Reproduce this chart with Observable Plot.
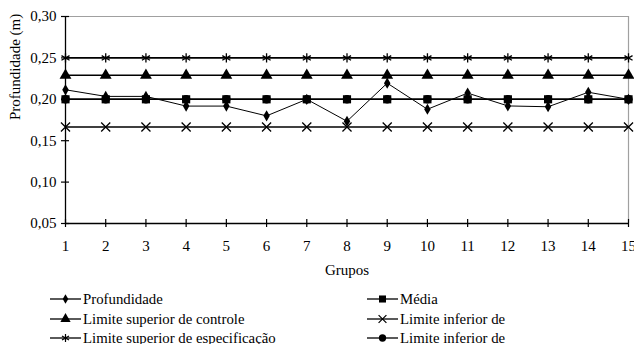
<!DOCTYPE html>
<html>
<head>
<meta charset="utf-8">
<script src="https://cdn.jsdelivr.net/npm/d3@7"></script>
<script src="https://cdn.jsdelivr.net/npm/@observablehq/plot@0.6"></script>
<style>
  body { margin: 0; background: #fff; font-family: "Liberation Serif", "Times New Roman", serif; overflow: hidden; }
  #chart svg { display: block; }
  #legend { position: relative; height: 64px; font-size: 14.8px; color: #000; }
  .item { position: absolute; display: flex; align-items: center; height: 20px; white-space: nowrap; }
  .item svg { margin-right: 2px; }
</style>
</head>
<body>
<div id="chart"></div>
<div id="legend"></div>
<script>
// Groups (x axis)
const grupos = [1, 2, 3, 4, 5, 6, 7, 8, 9, 10, 11, 12, 13, 14, 15];
// Measured depth per group (m)
const profundidade = [0.2115, 0.2035, 0.2035, 0.1918, 0.1918, 0.180, 0.200, 0.1735, 0.2195, 0.188, 0.2075, 0.192, 0.191, 0.2085, 0.200];
// Constant reference levels (m)
const media = 0.200;
const limiteSupControle = 0.229;
const limiteInfControle = 0.1665;
const limiteSupEspec = 0.250;
const limiteInfEspec = 0.200;
// Axis ticks
const yTicks = [0.05, 0.10, 0.15, 0.20, 0.25, 0.30];

const fmt = d => d3.format(".2f")(d).replace(".", ",");

// Series in drawing order
const series = [
  {name: "Profundidade", values: profundidade, symbol: "diamond", r: 3.4, fill: "black", stroke: "none", width: 1},
  {name: "Média", values: grupos.map(() => media), symbol: "square", r: 4.6, fill: "black", stroke: "none", width: 1.6},
  {name: "Limite superior de controle", values: grupos.map(() => limiteSupControle), symbol: "triangle", r: 4.4, fill: "black", stroke: "none", width: 1.6},
  {name: "Limite inferior de", values: grupos.map(() => limiteInfControle), symbol: "times", r: 4.2, fill: "none", stroke: "black", width: 1.6},
  {name: "Limite superior de especificação", values: grupos.map(() => limiteSupEspec), symbol: "asterisk", r: 4.4, fill: "none", stroke: "black", width: 1.6},
  {name: "Limite inferior de", values: grupos.map(() => limiteInfEspec), symbol: "circle", r: 4.2, fill: "black", stroke: "none", width: 1.6}
];

const marks = [
  // plot-area border (top and right)
  Plot.ruleY([0.30], {stroke: "#a0a0a0", strokeWidth: 1.2}),
  Plot.ruleX([15], {y1: 0.05, y2: 0.30, stroke: "#a0a0a0", strokeWidth: 1.2})
];
for (const s of series) {
  const rows = grupos.map((g, i) => ({g, v: s.values[i]}));
  marks.push(Plot.line(rows, {x: "g", y: "v", stroke: "black", strokeWidth: s.width}));
  marks.push(Plot.dot(rows, {
    x: "g", y: "v", symbol: () => s.symbol, r: s.r,
    fill: s.fill, stroke: s.stroke === "none" ? null : s.stroke, strokeWidth: 1.3
  }));
}
marks.push(
  // axes lines
  Plot.ruleX([1], {y1: 0.05, y2: 0.30, stroke: "black", strokeWidth: 1.3}),
  Plot.ruleY([0.05], {x1: 1, x2: 15, stroke: "black", strokeWidth: 1.3}),
  // crossing tick marks
  Plot.ruleY(yTicks, {x1: 1, x2: 1, insetLeft: -4, insetRight: -4, stroke: "black", strokeWidth: 1.2}),
  Plot.ruleX(grupos, {y1: 0.05, y2: 0.05, insetTop: -4, insetBottom: -4, stroke: "black", strokeWidth: 1.2}),
  Plot.axisY(yTicks, {tickSize: 0, tickPadding: 9, tickFormat: fmt, label: null, fontSize: 15}),
  Plot.axisX(grupos, {tickSize: 0, tickPadding: 17, tickFormat: d => String(d), label: null, fontSize: 15}),
  Plot.text(["Profundidade (m)"], {frameAnchor: "left", dx: -50, rotate: -90, fontSize: 15}),
  Plot.text(["Grupos"], {frameAnchor: "bottom", dy: 51, fontSize: 15})
);

const chart = Plot.plot({
  width: 634,
  height: 280,
  marginLeft: 65,
  marginRight: 6,
  marginTop: 16,
  marginBottom: 57,
  style: {fontFamily: "Liberation Serif, Times New Roman, serif", color: "black", background: "white", overflow: "visible"},
  x: {domain: [1, 15], axis: null},
  y: {domain: [0.05, 0.30], axis: null},
  marks
});
document.getElementById("chart").appendChild(chart);

// Legend: two columns, three rows (Excel-style order)
const legend = document.getElementById("legend");
const positions = [
  [50, 19], [367, 19], [50, 39], [367, 39], [50, 58], [367, 58]
];
series.forEach((s, i) => {
  const [left, cy] = positions[i];
  const item = document.createElement("div");
  item.className = "item";
  item.style.left = left + "px";
  item.style.top = (cy - 10) + "px";
  const sym = {diamond: d3.symbolDiamond, square: d3.symbolSquare, triangle: d3.symbolTriangle,
               times: d3.symbolTimes, asterisk: d3.symbolAsterisk, circle: d3.symbolCircle}[s.symbol];
  const size = Math.PI * s.r * s.r * 0.75;
  const path = d3.symbol(sym, size)();
  const svgNS = "http://www.w3.org/2000/svg";
  const svg = document.createElementNS(svgNS, "svg");
  svg.setAttribute("width", 31);
  svg.setAttribute("height", 20);
  svg.innerHTML = `<line x1="0" x2="31" y1="10" y2="10" stroke="black" stroke-width="1.3"/>` +
    `<path transform="translate(15.5,10)" d="${path}" fill="${s.fill}" stroke="${s.stroke}" stroke-width="1.2"/>`;
  item.appendChild(svg);
  const label = document.createElement("span");
  label.textContent = s.name;
  item.appendChild(label);
  legend.appendChild(item);
});
</script>
</body>
</html>
